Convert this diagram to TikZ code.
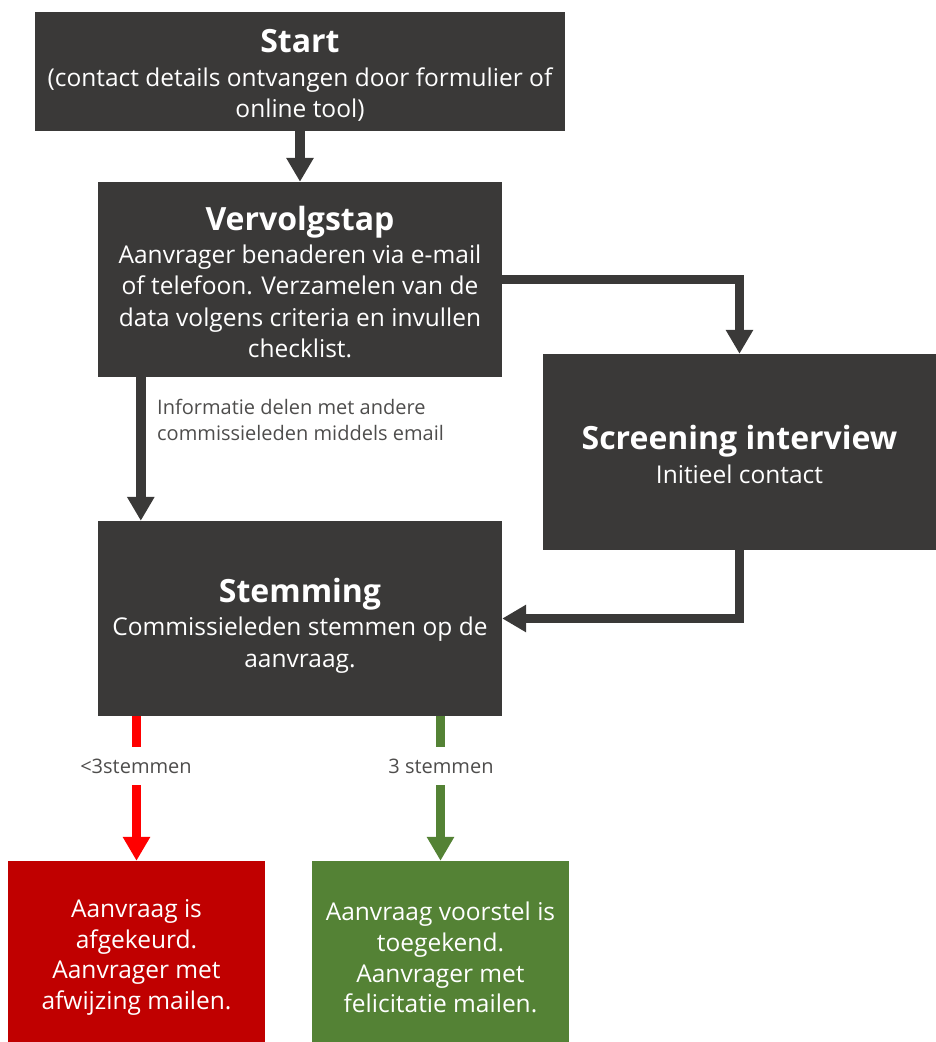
\documentclass[tikz,border=0pt]{standalone}
\usepackage{fontspec}
\setmainfont{Open Sans}
\usetikzlibrary{arrows.meta}
\definecolor{boxgray}{HTML}{3A3938}
\definecolor{redbox}{HTML}{C00000}
\definecolor{redarrow}{HTML}{FF0000}
\definecolor{greenbox}{HTML}{548235}
\newcommand{\ttlfont}{\bfseries\fontsize{32}{36}\selectfont}
\tikzset{
  x=1pt, y=1pt,
  box/.style={fill=boxgray, inner sep=0pt},
  txt/.style={text=white, align=center, inner sep=0pt, font=\fontsize{24.5}{31.5}\selectfont},
  conn/.style={draw=boxgray, line width=9.5pt, -{Triangle[width=26pt,length=24pt]}},
  lbl/.style={text=boxgray!90, font=\fontsize{20}{26}\selectfont, inner sep=0pt},
}
\begin{document}
\begin{tikzpicture}
\useasboundingbox (0,0) rectangle (936,-1042);
\node[box, minimum width=530pt, minimum height=119pt] (start) at (300,-71.5) {};
\node[txt, yshift=-4pt] (startT) at (start.center)
  {{\ttlfont Start}\\[2pt](contact details ontvangen door formulier of\\online tool)};
\node[box, minimum width=404pt, minimum height=195pt] (vervolg) at (300,-279.5) {};
\node[txt, yshift=-3pt] (vervolgT) at (vervolg.center)
  {{\ttlfont Vervolgstap}\\[1pt]Aanvrager benaderen via e-mail\\of telefoon. Verzamelen van de\\data volgens criteria en invullen\\checklist.};
\node[box, minimum width=393pt, minimum height=196pt] (screen) at (739.5,-452) {};
\node[txt, yshift=-2.5pt] (screenT) at (screen.center)
  {{\ttlfont Screening interview}\\[2pt]Initieel contact};
\node[box, minimum width=404pt, minimum height=195pt] (stem) at (300,-618.5) {};
\node[txt, yshift=-7pt] (stemT) at (stem.center)
  {{\ttlfont Stemming}\\[2pt]Commissieleden stemmen op de\\aanvraag.};
\node[box, fill=redbox, minimum width=257pt, minimum height=181pt] (red) at (136.5,-951.5) {};
\node[txt, font=\fontsize{24.5}{30.8}\selectfont, yshift=-6pt] (redT) at (red.center)
  {Aanvraag is\\afgekeurd.\\Aanvrager met\\afwijzing mailen.};
\node[box, fill=greenbox, minimum width=257pt, minimum height=181pt] (green) at (440.5,-951.5) {};
\node[txt, font=\fontsize{24.5}{30.8}\selectfont, yshift=-6pt] (greenT) at (green.center)
  {Aanvraag voorstel is\\toegekend.\\Aanvrager met\\felicitatie mailen.};

\draw[conn] (start) -- (vervolg);
\draw[conn] (vervolg.east) -| (screen.north);
\draw[conn] ([xshift=43pt]vervolg.south west) -- ([xshift=43pt]stem.north west);
\draw[conn] (screen.south) |- (stem.east);
\draw[conn, draw=redarrow, -{Triangle[width=26pt,length=24pt,fill=redarrow]}] (stem.south -| red.north) -- (red.north);
\draw[conn, draw=greenbox, -{Triangle[width=26pt,length=24pt,fill=greenbox]}] (stem.south -| green.north) -- (green.north);

\node[lbl, fill=white, minimum height=38pt, inner xsep=2pt] (l1) at (136,-766) {<3stemmen};
\node[lbl, fill=white, minimum height=38pt, inner xsep=2pt] (l2) at (441,-766) {3 stemmen};
\node[lbl, anchor=north west, align=left] (info) at (157,-399) {Informatie delen met andere\\commissieleden middels email};
\end{tikzpicture}
\end{document}
